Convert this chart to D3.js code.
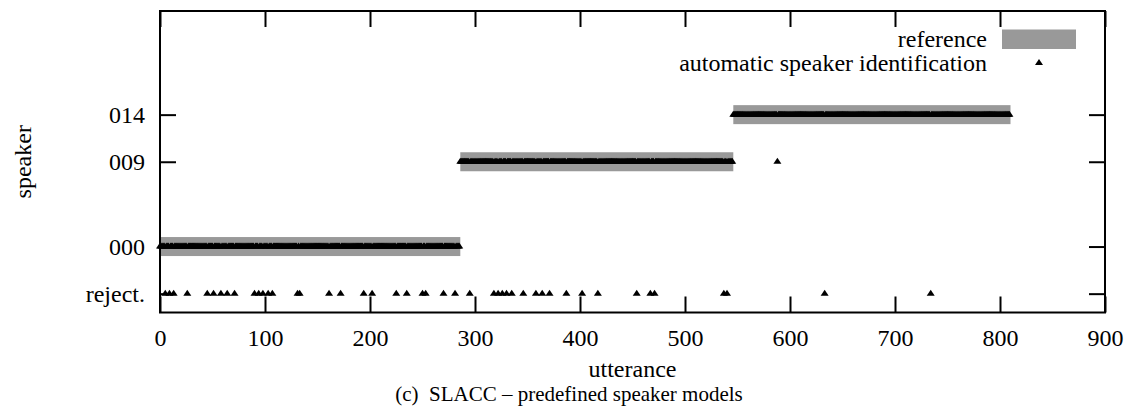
<!DOCTYPE html>
<html>
<head>
<meta charset="utf-8">
<script src="https://cdn.jsdelivr.net/npm/d3@7"></script>
<style>
  body { margin: 0; background: #fff; }
  text { font-family: "Liberation Serif", "Times New Roman", serif; fill: #000; }
</style>
</head>
<body>
<svg width="1130" height="410"></svg>
<script>
// reference speaker turns (utterance index, end is exclusive)
const speakers = ['000', '009', '014'];
const turnStarts = [0, 286, 546];
const turnEnds = [286, 546, 810];

// utterances rejected by the automatic identification
const rejected = [5, 9, 13, 26, 45, 51, 58, 64, 71, 90, 94, 98, 103, 107, 131, 133,
  161, 172, 194, 202, 225, 235, 250, 253, 270, 281, 295, 318, 322, 326, 330, 335,
  346, 358, 364, 371, 387, 402, 417, 454, 467, 471, 537, 540, 633, 734];

// utterances given to the wrong speaker
const wrongUtt = [588];
const wrongSpk = ['009'];

const xTicks = [0, 100, 200, 300, 400, 500, 600, 700, 800, 900];
const yTickLabels = ['reject.', '000', '009', '014'];
const rejectLevel = -5;

const svg = d3.select('svg');
const pLeft = 160, pRight = 1105, pTop = 11, pBottom = 312.5;

const x = d3.scaleLinear().domain([0, 900]).range([pLeft, pRight]);
const y = d3.scaleLinear().domain([-7, 25]).range([pBottom, pTop]);
const level = (s) => s === 'reject.' ? rejectLevel : +s;

// build one point per utterance
const points = [];
speakers.forEach((spk, i) => {
  for (let u = turnStarts[i]; u < turnEnds[i]; u++) {
    let v = +spk;
    if (rejected.includes(u)) v = rejectLevel;
    else if (wrongUtt.includes(u)) v = +wrongSpk[wrongUtt.indexOf(u)];
    points.push({ u: u, v: v });
  }
});

const tri = 'M0,-4L4,2L-4,2Z';

// reference bars
svg.append('g').selectAll('rect')
  .data(speakers)
  .join('rect')
  .attr('x', (d, i) => x(turnStarts[i]))
  .attr('width', (d, i) => x(turnEnds[i]) - x(turnStarts[i]))
  .attr('y', (d) => y(+d) - 9.5)
  .attr('height', 19)
  .attr('fill', '#999');

// automatic identification
svg.append('g').selectAll('path')
  .data(points)
  .join('path')
  .attr('d', tri)
  .attr('transform', (d) => 'translate(' + x(d.u) + ',' + y(d.v) + ')')
  .attr('fill', '#000');

// axes, ticks pointing inward
const fontSize = 24;
const bx = svg.append('g')
  .attr('transform', 'translate(0,' + pBottom + ')')
  .call(d3.axisBottom(x).tickValues(xTicks).tickSizeInner(-16).tickSizeOuter(0).tickPadding(0));
bx.selectAll('text').attr('y', 33).attr('dy', 0).style('font-size', fontSize + 'px');

svg.append('g')
  .attr('transform', 'translate(0,' + pTop + ')')
  .call(d3.axisTop(x).tickValues(xTicks).tickSizeInner(-16).tickSizeOuter(0).tickFormat(''));

const ly = svg.append('g')
  .attr('transform', 'translate(' + pLeft + ',0)')
  .call(d3.axisLeft(y).tickValues(yTickLabels.map(level))
    .tickFormat((d, i) => yTickLabels[i]).tickSizeInner(-16).tickSizeOuter(0));
ly.selectAll('text').attr('x', -15).attr('dy', '0.34em').style('font-size', fontSize + 'px');

svg.append('g')
  .attr('transform', 'translate(' + pRight + ',0)')
  .call(d3.axisRight(y).tickValues(yTickLabels.map(level)).tickSizeInner(-16).tickSizeOuter(0).tickFormat(''));

svg.selectAll('.domain').remove();
svg.selectAll('.tick line').attr('stroke', '#000').attr('stroke-width', 2);

svg.append('rect')
  .attr('x', pLeft).attr('y', pTop)
  .attr('width', pRight - pLeft).attr('height', pBottom - pTop)
  .attr('fill', 'none').attr('stroke', '#000').attr('stroke-width', 2);

// axis titles
svg.append('text')
  .attr('x', (pLeft + pRight) / 2).attr('y', 377)
  .attr('text-anchor', 'middle')
  .style('font-size', fontSize + 'px')
  .text('utterance');

svg.append('text')
  .attr('transform', 'translate(31,' + ((pTop + pBottom) / 2) + ') rotate(-90)')
  .attr('text-anchor', 'middle')
  .style('font-size', fontSize + 'px')
  .text('speaker');

svg.append('text')
  .attr('x', 569).attr('y', 401)
  .attr('text-anchor', 'middle')
  .style('font-size', '21px')
  .text('(c)\u00a0 SLACC – predefined speaker models');

// legend
const legend = svg.append('g');
legend.append('rect')
  .attr('x', 1002).attr('y', 29.5).attr('width', 74).attr('height', 19.5)
  .attr('fill', '#999');
legend.append('text')
  .attr('x', 987).attr('y', 47).attr('text-anchor', 'end')
  .style('font-size', fontSize + 'px')
  .text('reference');
legend.append('path')
  .attr('d', tri)
  .attr('transform', 'translate(1039,63)')
  .attr('fill', '#000');
legend.append('text')
  .attr('x', 987).attr('y', 71).attr('text-anchor', 'end')
  .style('font-size', fontSize + 'px')
  .text('automatic speaker identification');
</script>
</body>
</html>
